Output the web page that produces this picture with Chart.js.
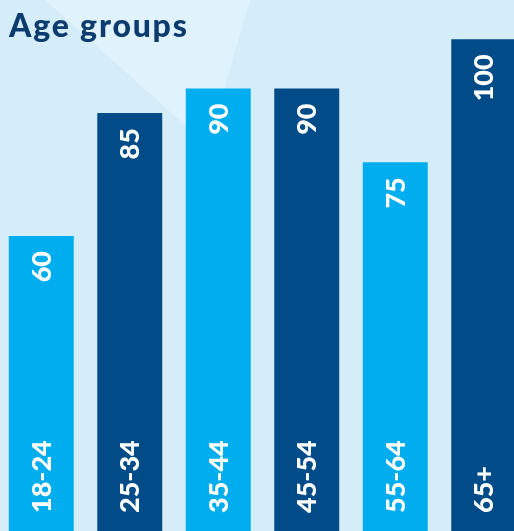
<!DOCTYPE html>
<html>
<head>
<meta charset="utf-8">
<script src="https://cdn.jsdelivr.net/npm/chart.js@4.4.1/dist/chart.umd.min.js"></script>
<style>
  html, body { margin: 0; padding: 0; width: 514px; height: 531px; overflow: hidden; background: #d5ecf9; }
  #wrap { position: relative; width: 514px; height: 531px; overflow: hidden; }
  #c { position: absolute; left: -3px; top: 0; }
  #title { position: absolute; left: 9px; top: 5px; font-family: Lato, "Open Sans", sans-serif; font-weight: 900; font-size: 32px; color: #0c3b6d; z-index: 2; letter-spacing: 1.8px; }
</style>
</head>
<body>
<div id="wrap">
  <canvas id="c" width="531" height="531"></canvas>
  <div id="title">Age groups</div>
</div>
<script>
const categories = ["18-24", "25-34", "35-44", "45-54", "55-64", "65+"];
const values = [60, 85, 90, 90, 75, 100];
const valueLabels = ["60", "85", "90", "90", "75", "100"];
const barColors = ["#00aeef", "#014c88", "#00aeef", "#014c88", "#00aeef", "#014c88"];

const bgPlugin = {
  id: 'bg',
  beforeDraw(chart) {
    const ctx = chart.ctx;
    ctx.save();
    ctx.fillStyle = '#d5ecf9';
    ctx.fillRect(0, 0, chart.width, chart.height);
    ctx.fillStyle = '#e0f2fb';
    ctx.beginPath();
    ctx.moveTo(48, 0);
    ctx.lineTo(253, 0);
    ctx.lineTo(211, 146);
    ctx.closePath();
    ctx.fill();
    ctx.restore();
  }
};

const labelPlugin = {
  id: 'barLabels',
  afterDatasetsDraw(chart) {
    const ctx = chart.ctx;
    const meta = chart.getDatasetMeta(0);
    const bottom = chart.chartArea.bottom;
    ctx.save();
    ctx.fillStyle = '#ffffff';
    ctx.font = '900 27px Lato, "Open Sans", sans-serif';
    ctx.textBaseline = 'middle';
    meta.data.forEach((bar, i) => {
      ctx.save();
      ctx.translate(bar.x, bar.y + 15);
      ctx.rotate(-Math.PI / 2);
      ctx.textAlign = 'right';
      ctx.fillText(valueLabels[i], 0, 1);
      ctx.restore();
      ctx.save();
      ctx.translate(bar.x, bottom - 18);
      ctx.rotate(-Math.PI / 2);
      ctx.textAlign = 'left';
      ctx.fillText(categories[i], 0, 1);
      ctx.restore();
    });
    ctx.restore();
  }
};

new Chart(document.getElementById('c'), {
  type: 'bar',
  data: {
    labels: categories,
    datasets: [{
      data: values,
      backgroundColor: barColors,
      borderWidth: 0,
      barPercentage: 0.734,
      categoryPercentage: 1.0
    }]
  },
  options: {
    responsive: false,
    animation: false,
    devicePixelRatio: 1,
    layout: { padding: 0 },
    plugins: { legend: { display: false }, tooltip: { enabled: false }, title: { display: false } },
    scales: {
      x: { display: false, grid: { display: false } },
      y: { display: false, min: 0, max: 108, grid: { display: false } }
    }
  },
  plugins: [bgPlugin, labelPlugin]
});
</script>
</body>
</html>
